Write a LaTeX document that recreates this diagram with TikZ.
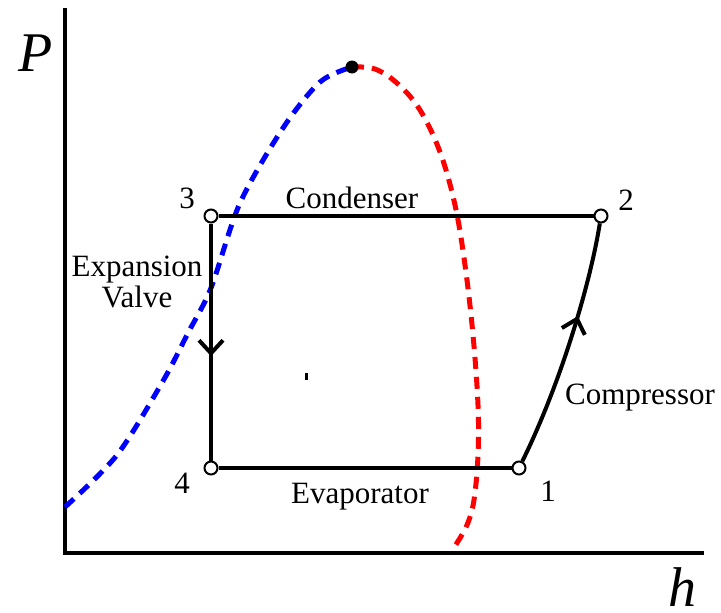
\documentclass[tikz,border=0pt]{standalone}
\usepackage{fontspec}
\setmainfont{Liberation Serif}
\usetikzlibrary{arrows.meta,decorations.markings}
\begin{document}
\begin{tikzpicture}[x=1pt,y=-1pt,
  axis/.style={line width=3.5pt},
  cyc/.style={line width=4pt},
  sat/.style={line width=5pt,dash pattern=on 12pt off 8pt},
  st/.style={circle,draw,fill=white,line width=2pt,inner sep=0pt,minimum size=13pt},
  lbl/.style={font=\fontsize{31}{34}\selectfont,inner sep=0pt},
  axl/.style={font=\fontsize{56}{60}\selectfont\itshape,inner sep=0pt},
  midarrow/.style={postaction={decorate},decoration={markings,
     mark=at position #1 with {\arrow[line width=4pt]{Straight Barb[length=13pt,width=24pt]}}}}]
\useasboundingbox (0,0) rectangle (721,613);
% axes
\coordinate (ytop) at (65,8);
\coordinate (orig) at (65,553);
\coordinate (xend) at (704,553);
\draw[axis] (ytop) -- (orig) -- (xend);
\node[axl] (P) at (36,53) {P};
\node[axl] (h) at (682,587) {h};
% saturation dome
\draw[sat,blue] plot[smooth,tension=0.5] coordinates {(65,507) (117,455) (163,381) (188,333) (211,288) (240,203) (283,128) (320,82) (352,67)};
\draw[sat,red] plot[smooth,tension=0.6] coordinates {(352,67) (375,69) (398,84) (420,110) (440,152) (455,205) (465,265) (473,335) (478,405) (478,455) (474,500) (467,525) (455,546)};
\node[circle,fill=black,inner sep=0pt,minimum size=13pt] (cp) at (352,67) {};
% cycle
\node[st] (n3) at (211,216) {};
\node[st] (n2) at (601,216) {};
\node[st] (n4) at (211,468) {};
\node[st] (n1) at (519,468) {};
\draw[cyc] (n3) -- (n2);
\draw[cyc] (n4) -- (n1);
\draw[cyc,midarrow=0.56] (n3) -- (n4);
\draw[cyc,midarrow=0.62] (n1) .. controls (560,385) and (590,285) .. (n2);
\node[fill=black,inner sep=0pt,minimum width=3pt,minimum height=7pt] (dot) at (306,376) {};
% labels
\node[lbl] (l3) at (187,198) {3};
\node[lbl] (l2) at (626,200) {2};
\node[lbl] (l4) at (182,483) {4};
\node[lbl] (l1) at (548,491) {1};
\node[lbl] (cond) at (352,198) {Condenser};
\node[lbl] (evap) at (360,497) {Evaporator};
\node[lbl,align=center] (exp) at (137,282) {Expansion\\[-3pt]Valve};
\node[lbl] (comp) at (640,398) {Compressor};
\end{tikzpicture}
\end{document}
